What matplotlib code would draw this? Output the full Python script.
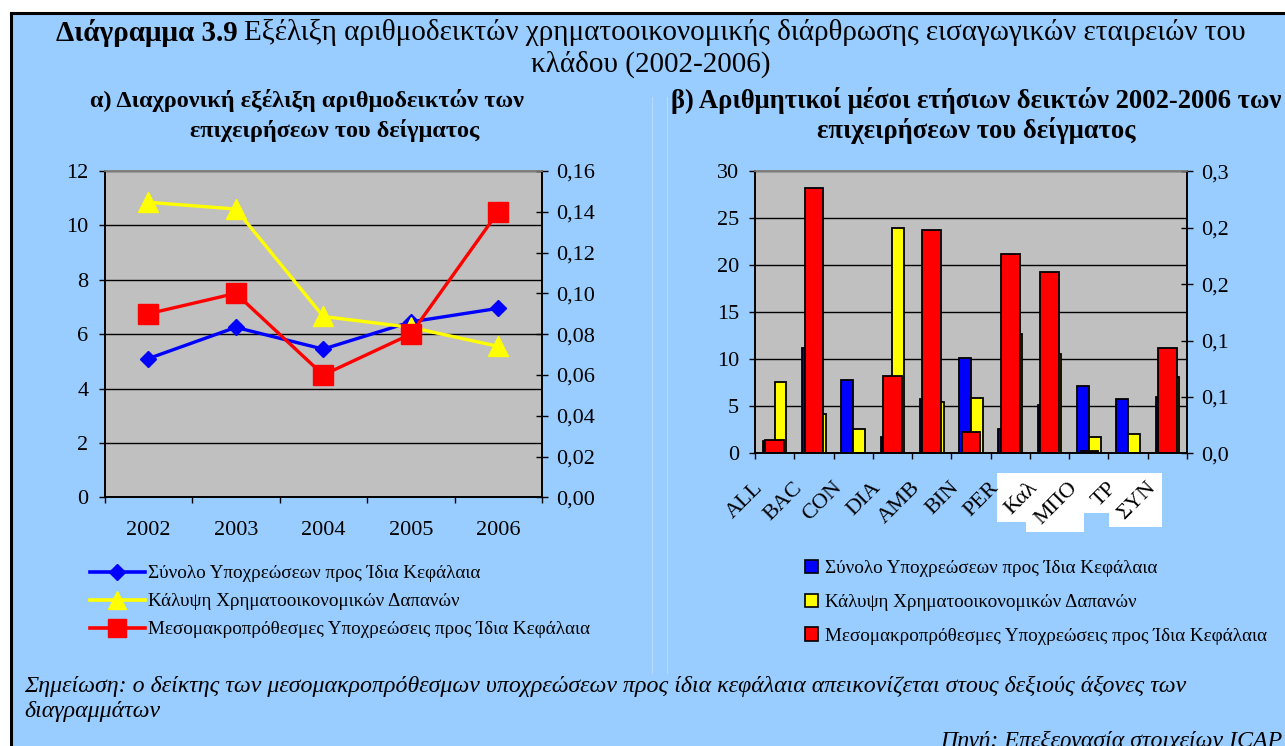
import numpy as np
import matplotlib.pyplot as plt
from matplotlib.lines import Line2D
from matplotlib.patches import Patch, Rectangle
from matplotlib.ticker import FuncFormatter
from matplotlib.transforms import Bbox, ScaledTranslation, blended_transform_factory

plt.rcParams['font.family'] = ['Liberation Serif', 'DejaVu Serif']

# a) yearly indices
years = ['2002', '2003', '2004', '2005', '2006']
total_liab = [5.1, 6.25, 5.45, 6.45, 6.95]
fin_cover = [10.85, 10.6, 6.65, 6.25, 5.55]
long_liab = [0.090, 0.100, 0.060, 0.080, 0.140]   # right axis

# b) 2002-2006 averages per firm
firms = ['ALL', 'BAC', 'CON', 'DIA', 'AMB', 'BIN', 'PER', 'Καλ', 'ΜΠΟ', 'ΤΡ', 'ΣΥΝ']
avg_total = [1.3, 11.2, 7.85, 1.75, 5.75, 10.15, 2.55, 5.1, 7.2, 5.75, 5.95]
avg_cover = [7.6, 4.2, 2.55, 24.0, 5.5, 5.9, 12.75, 10.6, 1.7, 2.1, 8.1]
avg_long = [0.014, 0.282, 0.0, 0.0825, 0.238, 0.023, 0.212, 0.193, 0.002, 0.0, 0.112]

labels = ['Σύνολο Υποχρεώσεων προς Ίδια Κεφάλαια',
          'Κάλυψη Χρηματοοικονομικών Δαπανών',
          'Μεσομακροπρόθεσμες Υποχρεώσεις προς Ίδια Κεφάλαια']
colors = ['#0000FF', '#FFFF00', '#FF0000']

W, H = 1285, 746
BG = '#99CCFF'
PLOT_BG = '#C0C0C0'


def px(x):
    return x / W


def py(y):
    return 1 - y / H


def comma(fmt):
    return FuncFormatter(lambda v, p: format(v, fmt).replace('.', ','))


def style_axes(ax, ax2, n):
    ax.set_facecolor(PLOT_BG)
    ax.set_axisbelow(True)
    ax.grid(axis='y', color='black', linewidth=1.0)
    ax.set_xlim(-0.5, n - 0.5)
    ax.set_xticks(np.arange(n + 1) - 0.5)
    ax.set_xticklabels([])
    for a in (ax, ax2):
        for s in ['left', 'bottom', 'right']:
            a.spines[s].set_color('black')
            a.spines[s].set_linewidth(1.2)
        a.spines['top'].set_color('#808080')
        a.spines['top'].set_linewidth(1.2)
    ax.tick_params(axis='x', which='major', direction='out', length=4.5, width=1)
    ax.tick_params(axis='y', direction='out', length=4.5, width=1, labelsize=16, pad=7)
    ax2.tick_params(axis='y', direction='inout', length=8.5, width=1, labelsize=16, pad=6)


fig = plt.figure(figsize=(W / 100, H / 100), dpi=100)
fig.patch.set_facecolor(BG)

# frame of the page
fig.patches.append(Rectangle((0, py(12)), 1, 12 / H, transform=fig.transFigure,
                             facecolor='white', edgecolor='none', zorder=0))
fig.patches.append(Rectangle((0, 0), px(10), 1, transform=fig.transFigure,
                             facecolor='white', edgecolor='none', zorder=0))
fig.add_artist(Line2D([px(11), 1], [py(13), py(13)], color='black', lw=2.2))
fig.add_artist(Line2D([px(11), px(11)], [0, py(13)], color='black', lw=2.2))
for xl in (652, 667):
    fig.add_artist(Line2D([px(xl), px(xl)], [py(673), py(97)], color='#B8DBFF', lw=0.8))

# ---------- left chart ----------
ax = fig.add_axes([px(104.5), py(497.3), px(542) - px(104.5), (497.3 - 171) / H])
axb = ax.twinx()
x = np.arange(len(years))
ax.plot(x, total_liab, color=colors[0], lw=2.4, marker='D', ms=8.5, mec=colors[0])
ax.plot(x, fin_cover, color=colors[1], lw=2.4, marker='^', ms=14, mec=colors[1])
axb.plot(x, long_liab, color=colors[2], lw=2.4, marker='s', ms=14.5, mec=colors[2])
ax.set_ylim(0, 12)
ax.set_yticks(np.arange(0, 13, 2))
axb.set_ylim(0, 0.16)
axb.set_yticks(np.arange(0, 0.161, 0.02))
axb.yaxis.set_major_formatter(comma('.2f'))
style_axes(ax, axb, len(years))
ax.set_xticks(x, minor=True)
ax.set_xticklabels(years, minor=True)
ax.tick_params(axis='x', which='minor', length=0, labelsize=16, pad=17)

fig.legend([Line2D([], [], color=c, lw=2.6, marker=m, ms=s, mec=c)
            for c, m, s in zip(colors, ['D', '^', 's'], [8.5, 12.5, 12.5])],
           labels, loc='upper left', bbox_to_anchor=(px(90), py(565)),
           frameon=False, fontsize=13.8, handlelength=2.85, handletextpad=0.2,
           labelspacing=0.55, borderaxespad=0, borderpad=0)

# ---------- right chart ----------
bx = fig.add_axes([px(755), py(453.3), px(1187) - px(755), (453.3 - 171.5) / H])
bxb = bx.twinx()
xf = np.arange(len(firms))
bx.bar(xf - 0.15, avg_total, width=0.3, color=colors[0], edgecolor='black', lw=1.3)
bx.bar(xf + 0.15, avg_cover, width=0.3, color=colors[1], edgecolor='black', lw=1.3)
bxb.bar(xf, avg_long, width=0.47, color=colors[2], edgecolor='black', lw=1.3)
bx.set_ylim(0, 30)
bx.set_yticks(np.arange(0, 31, 5))
bxb.set_ylim(0, 0.3)
bxb.set_yticks(np.linspace(0, 0.3, 6))
bxb.yaxis.set_major_formatter(comma('.1f'))
style_axes(bx, bxb, len(firms))

trans = blended_transform_factory(bx.transData, bx.transAxes) + \
    ScaledTranslation(-0.21, -0.25, fig.dpi_scale_trans)
flabels = [bx.text(i, 0, f, transform=trans, rotation=45, rotation_mode='anchor',
                   ha='right', va='top', fontsize=16, zorder=5)
           for i, f in enumerate(firms)]

leg2 = fig.legend([Patch(facecolor=c, edgecolor='black', lw=1.2) for c in colors],
                  labels, loc='upper left', bbox_to_anchor=(px(805), py(560)),
                  frameon=False, fontsize=13.8, handlelength=0.7, handleheight=0.7,
                  handletextpad=0.35, labelspacing=0.85, borderaxespad=0, borderpad=0)
leg2.get_texts()[2].set_clip_box(Bbox([[0, 0], [1278, H]]))
leg2.get_texts()[2].set_clip_on(True)

# ---------- titles and notes ----------
t1 = fig.text(0, py(33), 'Διάγραμμα 3.9', weight='bold', fontsize=21, va='center')
t2 = fig.text(0, py(33), 'Εξέλιξη αριθμοδεικτών χρηματοοικονομικής διάρθρωσης '
              'εισαγωγικών εταιρειών του', fontsize=21, va='center')
fig.text(px(651), py(64), 'κλάδου (2002-2006)', fontsize=21, ha='center', va='center')

fig.text(px(307), py(101), 'α) Διαχρονική εξέλιξη αριθμοδεικτών των',
         weight='bold', fontsize=17.5, ha='center', va='center')
fig.text(px(335), py(130), 'επιχειρήσεων του δείγματος',
         weight='bold', fontsize=17.5, ha='center', va='center')
fig.text(px(976), py(101), 'β) Αριθμητικοί μέσοι ετήσιων δεικτών 2002-2006 των',
         weight='bold', fontsize=19.2, ha='center', va='center')
fig.text(px(976), py(130), 'επιχειρήσεων του δείγματος',
         weight='bold', fontsize=19.2, ha='center', va='center')

fig.text(px(24), py(686), 'Σημείωση: ο δείκτης των μεσομακροπρόθεσμων υποχρεώσεων προς '
         'ίδια κεφάλαια απεικονίζεται στους δεξιούς άξονες των',
         style='italic', fontsize=17.2, va='center')
fig.text(px(24), py(711), 'διαγραμμάτων', style='italic', fontsize=17.2, va='center')
fig.text(px(1282), py(731), 'Πηγή: Επεξεργασία στοιχείων ICAP', style='italic',
         fontsize=17.2, ha='right', va='top')

# centre the mixed-weight title line and put white boxes behind the last labels
fig.canvas.draw()
r = fig.canvas.get_renderer()
w1 = t1.get_window_extent(r).width
w2 = t2.get_window_extent(r).width
x0 = 651 - (w1 + 6 + w2) / 2
t1.set_x(px(x0))
t2.set_x(px(x0 + w1 + 6))
top = bx.transAxes.inverted().transform((0, H - 473))[1]
for t in flabels[7:]:
    bb = bx.transAxes.inverted().transform_bbox(t.get_window_extent(r))
    pad = 5 / (px(1187) - px(755)) / W
    bx.add_patch(Rectangle((bb.x0 - pad, bb.y0 - pad), bb.width + 1.5 * pad,
                           top - bb.y0 + pad, transform=bx.transAxes,
                           facecolor='white', edgecolor='none', clip_on=False, zorder=4))

fig.savefig('out.png', dpi=100, facecolor=fig.get_facecolor())
